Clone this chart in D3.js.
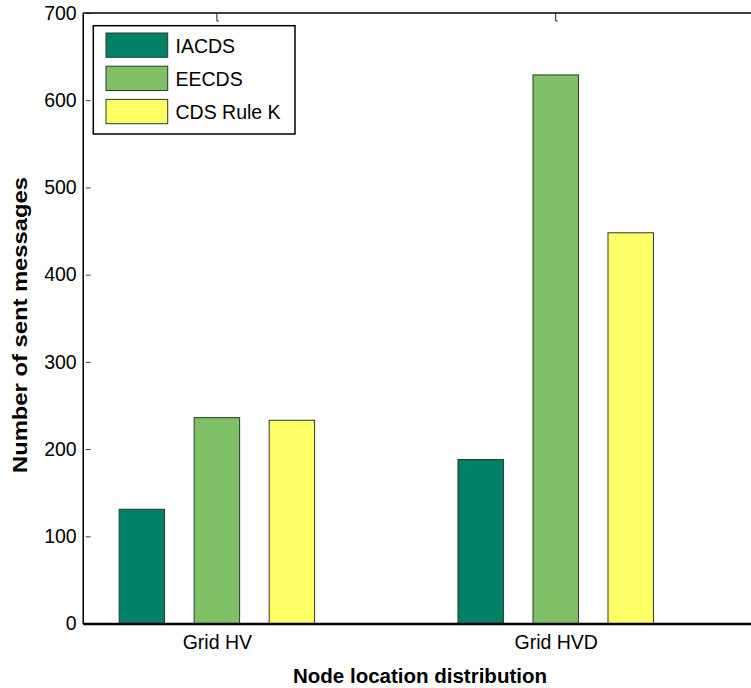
<!DOCTYPE html>
<html>
<head>
<meta charset="utf-8">
<script src="https://cdn.jsdelivr.net/npm/d3@7"></script>
<style>
  html, body { margin: 0; padding: 0; background: #fff; }
  svg { display: block; font-family: Arial, "Liberation Sans", sans-serif; }
</style>
</head>
<body>
<svg id="chart" width="751" height="688"></svg>
<script>
// Sent-message counts per node location distribution
const categories = ["Grid HV", "Grid HVD"];
const seriesNames = ["IACDS", "EECDS", "CDS Rule K"];
const iacds = [131, 188];
const eecds = [236, 629];
const cdsRuleK = [233, 448];
const yTicks = [0, 100, 200, 300, 400, 500, 600, 700];
const colors = ["#008066", "#80C066", "#FFFF66"];

const seriesValues = [iacds, eecds, cdsRuleK];

const svg = d3.select("#chart");
const plotLeft = 82.7, plotTop = 13, plotBottom = 623.5, plotRight = 758;

// Group positions on a numeric x axis (1, 2), limits as in the plot window
const x = d3.scaleLinear().domain([0.604, 2.597]).range([plotLeft, plotRight]);
const y = d3.scaleLinear().domain([0, 700]).range([plotBottom, plotTop]);

const groupHalf = 112.5;
const inner = d3.scaleBand().domain(seriesNames)
  .range([-groupHalf, groupHalf]).paddingInner(0.394).paddingOuter(0.197);

// Bars
const groups = svg.append("g").selectAll("g")
  .data(categories)
  .join("g")
  .attr("transform", (d, i) => `translate(${x(i + 1)},0)`);

groups.selectAll("rect")
  .data((d, i) => seriesNames.map((s, k) => ({ s, k, v: seriesValues[k][i] })))
  .join("rect")
  .attr("x", d => inner(d.s))
  .attr("width", inner.bandwidth())
  .attr("y", d => y(d.v))
  .attr("height", d => y(0) - y(d.v))
  .attr("fill", d => colors[d.k])
  .attr("stroke", "#2a3a30")
  .attr("stroke-width", 1);

// Left axis
const yAxis = d3.axisLeft(y).tickValues(yTicks).tickSize(0).tickPadding(6);
const gy = svg.append("g").attr("transform", `translate(${plotLeft},0)`).call(yAxis);
gy.select(".domain").attr("stroke", "#000").attr("stroke-width", 1.5);
gy.selectAll("text").attr("font-size", 19.5).attr("fill", "#000")
  .attr("font-family", "Arial, 'Liberation Sans', sans-serif");
// inward tick marks
gy.selectAll(".tick").append("line")
  .attr("x1", 3).attr("x2", 8).attr("stroke", "#444").attr("stroke-width", 1);

// Bottom axis
const xAxis = d3.axisBottom(x).tickValues([1, 2])
  .tickFormat((d) => categories[d - 1]).tickSize(0).tickPadding(12);
const gx = svg.append("g").attr("transform", `translate(0,${plotBottom})`).call(xAxis);
gx.select(".domain").attr("stroke", "#000").attr("stroke-width", 2.5);
gx.selectAll("text").attr("font-size", 19.5).attr("fill", "#000")
  .attr("font-family", "Arial, 'Liberation Sans', sans-serif");

// Top border with small ticks at the group positions
svg.append("line")
  .attr("x1", plotLeft).attr("x2", plotRight).attr("y1", plotTop).attr("y2", plotTop)
  .attr("stroke", "#000").attr("stroke-width", 1.5);
svg.append("g").selectAll("path")
  .data([1, 2])
  .join("path")
  .attr("d", d => `M${x(d)},${plotTop}V${plotTop + 8}h2`)
  .attr("fill", "none").attr("stroke", "#222").attr("stroke-width", 1);

// Axis titles
svg.append("text")
  .attr("x", 420).attr("y", 683)
  .attr("text-anchor", "middle")
  .attr("font-size", 20.5).attr("font-weight", "bold")
  .text("Node location distribution");

svg.append("text")
  .attr("transform", "translate(27,325) rotate(-90)")
  .attr("text-anchor", "middle")
  .attr("font-size", 20).attr("font-weight", "bold")
  .attr("textLength", 296).attr("lengthAdjust", "spacingAndGlyphs")
  .text("Number of sent messages");

// Legend
const legend = svg.append("g");
legend.append("rect")
  .attr("x", 93.3).attr("y", 25.7).attr("width", 201.7).attr("height", 108.3)
  .attr("fill", "#fff").attr("stroke", "#000").attr("stroke-width", 1.5);
const items = legend.selectAll("g.item")
  .data(seriesNames)
  .join("g").attr("class", "item")
  .attr("transform", (d, i) => `translate(0,${i * 33.2})`);
items.append("rect")
  .attr("x", 106).attr("y", 33).attr("width", 61.7).attr("height", 24.3)
  .attr("fill", (d, i) => colors[i]).attr("stroke", "#2a3a30").attr("stroke-width", 1);
items.append("text")
  .attr("x", 175.5).attr("y", 52.5)
  .attr("font-size", 19.5)
  .text(d => d);
</script>
</body>
</html>
